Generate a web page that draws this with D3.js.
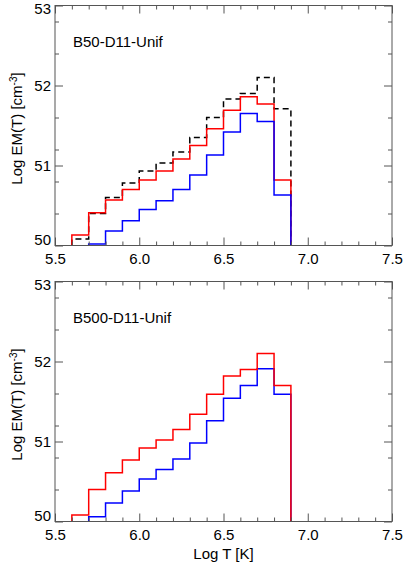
<!DOCTYPE html>
<html>
<head>
<meta charset="utf-8">
<script src="https://cdn.jsdelivr.net/npm/d3@7"></script>
<style>
  html, body { margin: 0; padding: 0; background: #fff; }
  svg { display: block; font-family: "Liberation Sans", Arial, sans-serif; }
  .tick text { font-size: 15px; fill: #000; }
  .tick line { stroke: #555; }
</style>
</head>
<body>
<div id="chart"></div>
<script>
// left edges of the Log T bins (width 0.1)
const binLeft = [5.6, 5.7, 5.8, 5.9, 6.0, 6.1, 6.2, 6.3, 6.4, 6.5, 6.6, 6.7, 6.8];
const binWidth = 0.1;

// B50-D11-Unif
const topBlack = [50.08, 50.40, 50.60, 50.78, 50.93, 51.03, 51.17, 51.35, 51.60, 51.83, 51.90, 52.10, 51.71];
const topRed   = [50.13, 50.41, 50.57, 50.70, 50.82, 50.93, 51.08, 51.25, 51.46, 51.69, 51.86, 51.77, 50.82];
const topBlue  = [null,  50.02, 50.18, 50.31, 50.45, 50.56, 50.70, 50.88, 51.13, 51.42, 51.65, 51.55, 50.63];

// B500-D11-Unif
const botRed   = [50.08, 50.40, 50.61, 50.77, 50.92, 51.02, 51.15, 51.34, 51.59, 51.82, 51.90, 52.10, 51.70];
const botBlue  = [null,  50.06, 50.23, 50.38, 50.53, 50.65, 50.78, 50.98, 51.26, 51.54, 51.70, 51.91, 51.59];

const xMajor = [5.5, 6.0, 6.5, 7.0, 7.5];
const yMajor = [50, 51, 52, 53];
const xDomain = [5.5, 7.5];
const yDomain = [50, 53];

const W = 409, H = 566;
const left = 55, right = 392, ph = 240;

const svg = d3.select('#chart').append('svg')
  .attr('width', W).attr('height', H);
svg.append('rect').attr('width', W).attr('height', H).attr('fill', '#fff');

const x = d3.scaleLinear().domain(xDomain).range([left, right]);

const xMinor = d3.range(55, 76).map(v => v / 10).filter(v => !xMajor.includes(v));
const yMinor = d3.range(250, 266, 2).map(v => v / 5).filter(v => !yMajor.includes(v));

function stepPoints(vals){
  const pts = [];
  let started = false, last = null;
  vals.forEach((v, i) => {
    if(v == null) return;
    if(!started){ pts.push([binLeft[i], yDomain[0]]); started = true; }
    pts.push([binLeft[i], v]);
    last = i;
  });
  const xe = binLeft[last] + binWidth;
  pts.push([xe, vals[last]]);
  pts.push([xe, yDomain[0]]);
  return pts;
}

function drawPanel(top, title, series, idx){
  const y = d3.scaleLinear().domain(yDomain).range([top + ph, top]);
  const g = svg.append('g');

  const clipId = 'clip' + idx;
  g.append('clipPath').attr('id', clipId).append('rect')
    .attr('x', left).attr('y', top).attr('width', right - left).attr('height', ph);

  const line = d3.line().x(d => x(d[0])).y(d => y(d[1])).curve(d3.curveStepAfter);
  const lines = g.append('g').attr('clip-path', `url(#${clipId})`);
  series.forEach(s => {
    lines.append('path')
      .attr('d', line(stepPoints(s.values)))
      .attr('fill', 'none')
      .attr('stroke', s.color)
      .attr('stroke-width', 1.5)
      .attr('stroke-dasharray', s.dash || null);
  });

  // axes, ticks pointing inward on all four sides
  const axes = [
    [d3.axisBottom(x), `translate(0,${top + ph})`, true],
    [d3.axisTop(x), `translate(0,${top})`, false],
  ];
  axes.forEach(([ax, tr, labels]) => {
    g.append('g').attr('transform', tr)
      .call(ax.tickValues(xMajor).tickSize(-8).tickPadding(7.5).tickFormat(labels ? d3.format('.1f') : ''))
      .call(a => a.select('.domain').remove());
    g.append('g').attr('transform', tr)
      .call(ax.tickValues(xMinor).tickSize(-4).tickFormat(''))
      .call(a => a.select('.domain').remove());
  });
  const yaxes = [
    [d3.axisLeft(y), `translate(${left},0)`, true],
    [d3.axisRight(y), `translate(${right},0)`, false],
  ];
  yaxes.forEach(([ax, tr, labels]) => {
    const ga = g.append('g').attr('transform', tr)
      .call(ax.tickValues(yMajor).tickSize(-8).tickPadding(4).tickFormat(labels ? d3.format('d') : ''))
      .call(a => a.select('.domain').remove());
    if(labels){
      ga.selectAll('.tick text')
        .attr('dy', d => d === yDomain[0] ? '-0.1em' : d === yDomain[1] ? '0.52em' : '0.32em');
    }
    g.append('g').attr('transform', tr)
      .call(ax.tickValues(yMinor).tickSize(-4).tickFormat(''))
      .call(a => a.select('.domain').remove());
  });
  g.selectAll('.tick line').attr('stroke', '#555');

  g.append('rect')
    .attr('x', left).attr('y', top).attr('width', right - left).attr('height', ph)
    .attr('fill', 'none').attr('stroke', '#555').attr('stroke-width', 1);

  g.append('text')
    .attr('x', 73).attr('y', top + 41)
    .attr('font-size', 15)
    .text(title);

  const yl = g.append('text')
    .attr('transform', `translate(22,${top + ph / 2 + 3}) rotate(-90)`)
    .attr('text-anchor', 'middle')
    .attr('font-size', 15);
  yl.append('tspan').text('Log EM(T) [cm');
  yl.append('tspan').attr('font-size', 10).attr('dy', '-0.55em').text('-3');
  yl.append('tspan').attr('dy', '0.37em').text(']');
}

drawPanel(5.5, 'B50-D11-Unif', [
  { values: topBlack, color: '#000', dash: '6,4' },
  { values: topRed, color: '#ff0000' },
  { values: topBlue, color: '#0000ff' },
], 0);

drawPanel(281.5, 'B500-D11-Unif', [
  { values: botBlue, color: '#0000ff' },
  { values: botRed, color: '#ff0000' },
], 1);

svg.append('text')
  .attr('x', (left + right) / 2).attr('y', 559)
  .attr('text-anchor', 'middle')
  .attr('font-size', 15)
  .text('Log T [K]');
</script>
</body>
</html>
